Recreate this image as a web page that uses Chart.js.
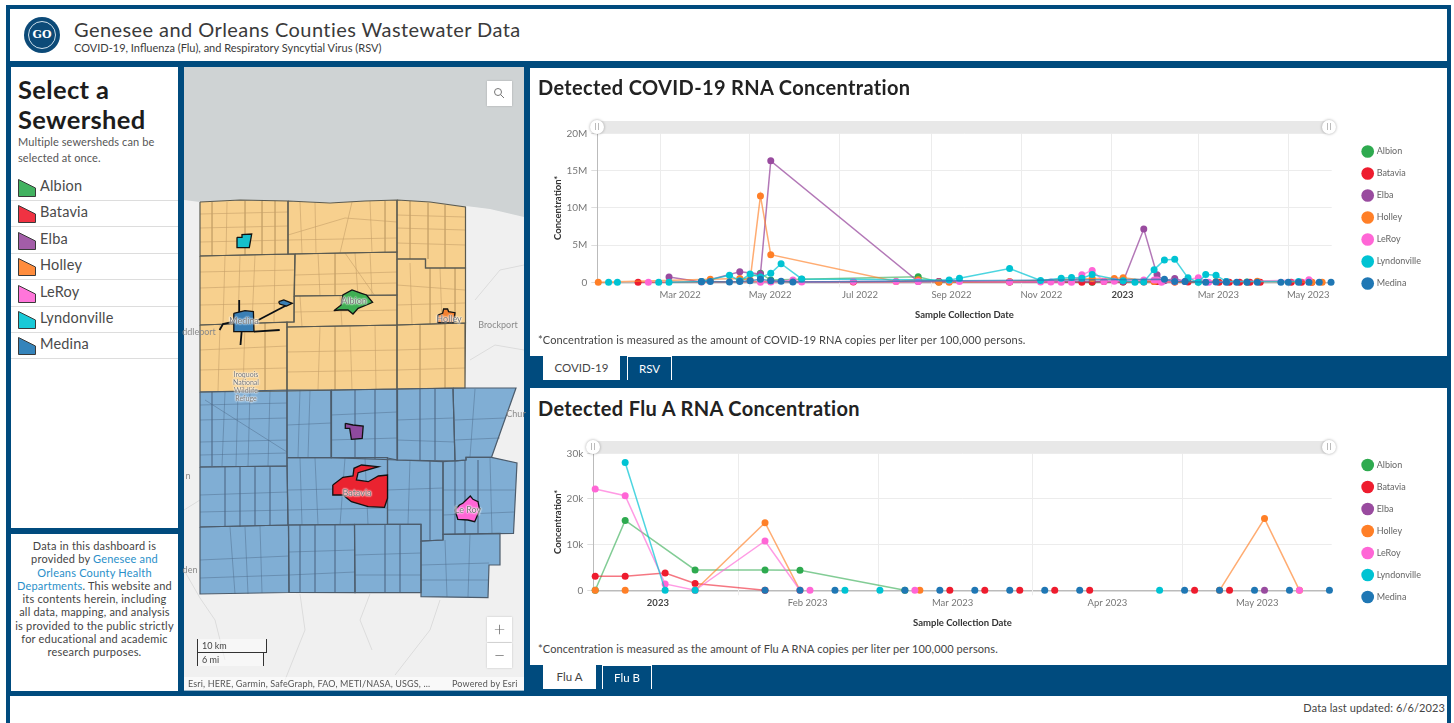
<!DOCTYPE html>
<html>
<head>
<meta charset="utf-8">
<title>Genesee and Orleans Counties Wastewater Data</title>
<script src="https://cdn.jsdelivr.net/npm/chart.js@4"></script>
<style>
  html, body { margin: 0; padding: 0; background: #fff; overflow: hidden; }
  body { width: 1454px; height: 723px; position: relative; font-family: Lato, "Open Sans", sans-serif; color: #323232; }
  .frame { position: absolute; left: 6px; top: 5px; width: 1445px; height: 718px; background: #004b7e; }
  .box { position: absolute; background: #fff; }
  .abs { position: absolute; white-space: nowrap; }
  canvas { position: absolute; }
  .track { position: absolute; height: 12px; background: #e8e8e8; }
  .handle { position: absolute; width: 14px; height: 14px; border-radius: 50%; background: #fff; box-shadow: 0 0 3px rgba(0,0,0,.35); }
  .handle::after { content: ""; position: absolute; left: 5px; top: 3px; width: 2px; height: 7px; border-left: 1px solid #bbb; border-right: 1px solid #bbb; }
  .tab { position: absolute; height: 24px; line-height: 24px; text-align: center; font-size: 11.5px; box-sizing: border-box; }
  .tab.on { background: #fff; color: #444; }
  .tab.off { border: 1px solid #fff; border-bottom: 0; color: #fff; }
  .chart-title { font-size: 20px; font-weight: 700; letter-spacing: .35px; color: #222; left: 538px; }
  .note { left: 538px; font-size: 11px; color: #444; letter-spacing: .12px; }
  .row { position: absolute; left: 11px; width: 167px; height: 26px; border-bottom: 1px solid #ddd; }
  .row svg { position: absolute; left: 7px; top: 5px; }
  .row span { position: absolute; left: 29px; top: 3px; font-size: 14.5px; color: #4a4a4a; letter-spacing: .2px; }
  .map-label { position: absolute; font-size: 9px; color: #8a8a8a; white-space: nowrap; transform: translate(-50%, -50%); }
  .map-name { color: #777; text-shadow: 0 0 2px #fff, 0 0 2px #fff, 0 0 2px #fff; }
  .zoom-btn { position: absolute; left: 487px; width: 25px; height: 25px; background: #fff; color: #6e6e6e; text-align: center; line-height: 23px; font-size: 20px; font-weight: 300; box-shadow: 0 0 2px rgba(0,0,0,.2); }
</style>
</head>
<body>
<div class="frame"></div>

<div class="box" style="left:10px;top:9px;width:1437px;height:52px"></div>
<div class="abs" style="left:24px;top:17px;width:36px;height:36px;border-radius:50%;background:#0c4a78"></div>
<div class="abs" style="left:28px;top:21px;width:26px;height:26px;border-radius:50%;border:1px solid #cfe0ec;color:#fff;font:700 11px/26px 'DejaVu Serif',serif;text-align:center">GO</div>
<div class="abs" style="left:74px;top:17px;font-size:20px;letter-spacing:.43px;color:#3a3a3a">Genesee and Orleans Counties Wastewater Data</div>
<div class="abs" style="left:74px;top:41px;font-size:11px;color:#3a3a3a">COVID-19, Influenza (Flu), and Respiratory Syncytial Virus (RSV)</div>

<div class="box" style="left:11px;top:67px;width:167px;height:461px"></div>
<div class="abs" style="left:18px;top:74px;font-size:25.5px;line-height:30px;font-weight:700;color:#1c1c1c;letter-spacing:.35px">Select a<br>Sewershed</div>
<div class="abs" style="left:18px;top:134px;font-size:11px;line-height:16px;letter-spacing:.1px;color:#555">Multiple sewersheds can be<br>selected at once.</div>
<div id="sewershedList"></div>

<div class="box" style="left:11px;top:534px;width:167px;height:157px"></div>
<div class="abs" style="left:11px;top:539px;width:167px;text-align:center;font-size:11px;line-height:13.3px;letter-spacing:.2px;color:#444">Data in this dashboard is<br>provided by <span style="color:#2a8fc9">Genesee and<br>Orleans County Health<br>Departments</span>. This website and<br>its contents herein, including<br>all data, mapping, and analysis<br>is provided to the public strictly<br>for educational and academic<br>research purposes.</div>

<canvas id="mapChart" width="340" height="623" style="left:184px;top:67px;background:#f0f0f0"></canvas>
<div class="map-label" style="left:199px;top:331px">ddleport</div>
<div class="map-label" style="left:498px;top:324px">Brockport</div>
<div class="map-label" style="left:516px;top:413px">Chur</div>
<div class="map-label" style="left:188px;top:475px">n</div>
<div class="map-label" style="left:190px;top:569px">den</div>
<div class="map-label map-name" style="left:246px;top:386px;font-size:7px;line-height:8px;text-align:center">Iroquois<br>National<br>Wildlife<br>Refuge</div>
<div class="map-label map-name" style="left:354px;top:300px">Albion</div>
<div class="map-label map-name" style="left:244px;top:320px">Medina</div>
<div class="map-label map-name" style="left:449px;top:318px">Holley</div>
<div class="map-label map-name" style="left:357px;top:492px">Batavia</div>
<div class="map-label map-name" style="left:468px;top:509px">Le Roy</div>
<div class="abs" style="left:487px;top:81px;width:25px;height:25px;background:#fff;box-shadow:0 0 2px rgba(0,0,0,.2)">
  <svg width="25" height="25"><circle cx="11" cy="11" r="3.5" fill="none" stroke="#777"/><line x1="13.5" y1="13.5" x2="17" y2="17" stroke="#777"/></svg>
</div>
<div class="zoom-btn" style="top:617px">+</div>
<div class="zoom-btn" style="top:643px">−</div>
<div class="abs" style="left:197px;top:639px;width:68px;height:13px;border-left:1px solid #333;border-right:1px solid #333;border-bottom:1px solid #333;background:rgba(255,255,255,.45);font-size:9px;line-height:13px;text-indent:4px;color:#444">10 km</div>
<div class="abs" style="left:197px;top:653px;width:65px;height:13px;border-left:1px solid #333;border-right:1px solid #333;background:rgba(255,255,255,.45);font-size:9px;line-height:13px;text-indent:4px;color:#444">6 mi</div>
<div class="abs" style="left:184px;top:677px;width:340px;height:14px;background:rgba(255,255,255,.6)"></div>
<div class="abs" style="left:188px;top:678px;font-size:9px;letter-spacing:.15px;color:#555">Esri, HERE, Garmin, SafeGraph, FAO, METI/NASA, USGS, ...</div>
<div class="abs" style="left:452px;top:678px;font-size:9px;letter-spacing:.15px;color:#555">Powered by Esri</div>

<div class="box" style="left:530px;top:68px;width:917px;height:288px"></div>
<div class="abs chart-title" style="top:75px">Detected COVID-19 RNA Concentration</div>
<div class="track" style="left:597px;top:121px;width:732px"></div>
<canvas id="covidChart" width="917" height="235" style="left:530px;top:100px"></canvas>
<div class="handle" style="left:590px;top:120px"></div>
<div class="handle" style="left:1322px;top:120px"></div>
<div class="abs note" style="top:333px">*Concentration is measured as the amount of COVID-19 RNA copies per liter per 100,000 persons.</div>
<div class="tab on" style="left:543px;top:356px;width:77px">COVID-19</div>
<div class="tab off" style="left:627px;top:356px;width:45px">RSV</div>

<div class="box" style="left:530px;top:388px;width:917px;height:277px"></div>
<div class="abs chart-title" style="top:396px">Detected Flu A RNA Concentration</div>
<div class="track" style="left:593px;top:441px;width:736px"></div>
<canvas id="fluChart" width="917" height="222" style="left:530px;top:420px"></canvas>
<div class="handle" style="left:586px;top:440px"></div>
<div class="handle" style="left:1322px;top:440px"></div>
<div class="abs note" style="top:642px">*Concentration is measured as the amount of Flu A RNA copies per liter per 100,000 persons.</div>
<div class="tab on" style="left:543px;top:665px;width:53px">Flu A</div>
<div class="tab off" style="left:602px;top:665px;width:50px">Flu B</div>

<div class="box" style="left:10px;top:696px;width:1437px;height:27px"></div>
<div class="abs" style="right:9px;top:701px;font-size:11px;letter-spacing:.1px;color:#444">Data last updated: 6/6/2023</div>

<script>
const seriesNames = ['Albion', 'Batavia', 'Elba', 'Holley', 'LeRoy', 'Lyndonville', 'Medina'];
const seriesColors = ['#2eaa4f', '#ee1c2e', '#994b9f', '#ff7f27', '#ff66d6', '#00c3d3', '#1f77b4'];
const seriesLines = ['rgba(46,170,79,.6)', 'rgba(238,28,46,.6)', 'rgba(153,75,159,.75)', 'rgba(255,127,39,.65)', 'rgba(255,102,214,.65)', 'rgba(0,195,211,.7)', 'rgba(31,119,180,.7)'];

// COVID-19 concentration in millions, [sample date, value]
const covidAlbion = [['2022-04-24', 0.2], ['2022-05-08', 1.2], ['2022-05-15', 0.3], ['2022-06-05', 0.4], ['2022-08-23', 0.75], ['2022-09-06', 0.05], ['2022-10-24', 0.05], ['2022-12-19', 0], ['2023-01-09', 0.05], ['2023-02-01', 0.1], ['2023-03-01', 0.05], ['2023-04-03', 0.05]];
const covidBatavia = [['2022-02-14', 0], ['2022-05-15', 0.1], ['2022-07-10', 0.05], ['2022-09-06', 0.1], ['2022-10-24', 0.05], ['2022-12-12', 0], ['2022-12-19', 0.05], ['2022-12-27', 0.1], ['2023-01-09', 0.05], ['2023-01-23', 0.05], ['2023-01-30', 0.1], ['2023-02-01', 0.1], ['2023-02-13', 0.05], ['2023-02-22', 0.05], ['2023-03-15', 0], ['2023-03-22', 0], ['2023-03-29', 0], ['2023-04-05', 0], ['2023-04-12', 0], ['2023-05-03', 0], ['2023-05-10', 0], ['2023-05-17', 0]];
const covidElba = [['2022-03-07', 0.7], ['2022-03-29', 0.05], ['2022-04-24', 1.4], ['2022-05-08', 1.1], ['2022-05-15', 16.3], ['2022-08-23', 0.1], ['2022-09-06', 0.1], ['2023-01-09', 0.1], ['2023-01-23', 7.15], ['2023-02-01', 1.0], ['2023-02-06', 0.2], ['2023-02-13', 0.5], ['2023-02-20', 0.1], ['2023-03-20', 0.1]];
const covidHolley = [['2022-01-18', 0], ['2022-04-04', 0.4], ['2022-04-24', 0.5], ['2022-05-01', 0.3], ['2022-05-08', 11.6], ['2022-05-15', 3.7], ['2022-08-08', 0.1], ['2022-08-23', 0.35], ['2022-09-06', 0], ['2022-09-13', 0], ['2022-10-24', 0.1], ['2022-12-19', 0.5], ['2023-01-03', 0.5], ['2023-01-09', 0.6], ['2023-01-30', 0.1], ['2023-02-13', 0.05], ['2023-03-13', 0.1], ['2023-04-10', 0.15], ['2023-05-17', 0], ['2023-05-24', 0]];
const covidLeRoy = [['2022-02-21', 0], ['2022-05-08', 0], ['2022-05-15', 0.05], ['2022-05-30', 0.3], ['2022-06-05', 0.05], ['2022-07-10', 0.1], ['2022-08-08', 0.1], ['2022-08-23', 0.1], ['2022-09-13', 0.25], ['2022-09-20', 0.1], ['2022-10-24', 0.05], ['2022-11-14', 0.05], ['2022-11-21', 0.05], ['2022-11-28', 0], ['2022-12-05', 0], ['2022-12-12', 1.0], ['2022-12-19', 1.6], ['2022-12-27', 0.1], ['2023-01-03', 0.15], ['2023-01-23', 0.3], ['2023-01-30', 0.3], ['2023-02-01', 0.3], ['2023-02-04', 0], ['2023-02-13', 0.1], ['2023-03-01', 0.6], ['2023-03-08', 0], ['2023-05-15', 0.35]];
const covidLyndonville = [['2022-01-25', 0], ['2022-01-31', 0], ['2022-02-28', 0], ['2022-03-07', 0], ['2022-03-29', 0.1], ['2022-04-17', 0.95], ['2022-04-24', 0.2], ['2022-05-01', 1.1], ['2022-05-08', 0.7], ['2022-05-15', 1.2], ['2022-05-22', 2.5], ['2022-06-05', 0.45], ['2022-09-13', 0.3], ['2022-09-20', 0.55], ['2022-10-24', 1.85], ['2022-11-14', 0.25], ['2022-11-28', 0.55], ['2022-12-05', 0.65], ['2022-12-12', 0.55], ['2022-12-19', 1.05], ['2023-01-09', 0.2], ['2023-01-17', 0], ['2023-01-23', 0.05], ['2023-01-30', 1.7], ['2023-02-06', 3.0], ['2023-02-13', 3.1], ['2023-02-22', 0.6], ['2023-03-01', 0], ['2023-03-06', 1.05], ['2023-03-13', 0.95], ['2023-03-20', 0.1], ['2023-05-08', 0.1]];
const covidMedina = [['2022-03-29', 0.1], ['2022-04-04', 0.1], ['2022-04-17', 0.05], ['2022-04-24', 0.1], ['2022-05-01', 0.2], ['2022-05-08', 0.4], ['2022-05-15', 0.2], ['2022-05-22', 0.15], ['2022-05-30', 0.05], ['2023-02-06', 0.4], ['2023-02-13', 0.1], ['2023-02-20', 0.1], ['2023-03-06', 0], ['2023-03-13', 0.05], ['2023-03-20', 0], ['2023-03-27', 0], ['2023-04-03', 0], ['2023-04-10', 0], ['2023-04-26', 0], ['2023-05-01', 0], ['2023-05-08', 0], ['2023-05-15', 0], ['2023-05-22', 0], ['2023-05-30', 0]];

const covidGridDates = ['2022-03-01', '2022-05-01', '2022-07-01', '2022-09-01', '2022-11-01', '2023-01-01', '2023-03-01', '2023-05-01'];
const covidTickDates = ['2022-03-15', '2022-05-15', '2022-07-15', '2022-09-15', '2022-11-15', '2023-01-09', '2023-03-15', '2023-05-15'];
const covidTickLabels = ['Mar 2022', 'May 2022', 'Jul 2022', 'Sep 2022', 'Nov 2022', '2023', 'Mar 2023', 'May 2023'];

// Flu A concentration in thousands, [sample date, value]
const fluAlbion = [['2023-01-03', 0], ['2023-01-09', 15.3], ['2023-01-23', 4.45], ['2023-02-06', 4.45], ['2023-02-13', 4.4], ['2023-03-06', 0]];
const fluBatavia = [['2023-01-03', 3.07], ['2023-01-09', 3.07], ['2023-01-17', 3.8], ['2023-01-23', 1.5], ['2023-02-06', 0], ['2023-03-15', 0], ['2023-03-22', 0], ['2023-03-29', 0], ['2023-04-05', 0], ['2023-04-12', 0], ['2023-05-03', 0], ['2023-05-10', 0]];
const fluElba = [['2023-05-17', 0]];
const fluHolley = [['2023-01-03', 0], ['2023-01-09', 0], ['2023-01-23', 0], ['2023-02-06', 14.8], ['2023-02-13', 0], ['2023-03-09', 0], ['2023-05-08', 0], ['2023-05-17', 15.7], ['2023-05-24', 0]];
const fluLeRoy = [['2023-01-03', 22.2], ['2023-01-09', 20.7], ['2023-01-17', 1.4], ['2023-01-23', 0], ['2023-02-06', 10.8], ['2023-02-13', 0], ['2023-02-15', 0], ['2023-03-08', 0], ['2023-05-24', 0]];
const fluLyndonville = [['2023-01-09', 28.0], ['2023-01-17', 0], ['2023-01-23', 0], ['2023-02-22', 0], ['2023-03-01', 0], ['2023-04-26', 0]];
const fluMedina = [['2023-02-06', 0], ['2023-02-13', 0], ['2023-02-20', 0], ['2023-03-06', 0], ['2023-03-13', 0], ['2023-03-20', 0], ['2023-03-27', 0], ['2023-04-03', 0], ['2023-04-10', 0], ['2023-05-01', 0], ['2023-05-08', 0], ['2023-05-15', 0], ['2023-05-22', 0], ['2023-05-30', 0]];

const fluGridDates = ['2023-02-01', '2023-03-01', '2023-04-01', '2023-05-01'];
const fluTickDates = ['2023-01-16', '2023-02-15', '2023-03-16', '2023-04-16', '2023-05-16'];
const fluTickLabels = ['2023', 'Feb 2023', 'Mar 2023', 'Apr 2023', 'May 2023'];

// Map outlines in page coordinates of the map view
const lakeShape = [[184, 67], [524, 67], [524, 217], [490, 209], [466, 206], [465, 207], [430, 202], [397, 200], [350, 203], [288, 201], [240, 200], [200, 202], [184, 200]];
const orleansTowns = [
  [[200, 202], [240, 200], [288, 201], [288, 254], [200, 256]],
  [[288, 201], [330, 203], [365, 201], [397, 200], [397, 252], [288, 254]],
  [[397, 200], [430, 202], [465.5, 207], [465.5, 268], [425.5, 268], [425.5, 259], [397, 259]],
  [[200, 256], [295, 254], [294, 322], [200, 325]],
  [[295, 254], [397, 252], [397, 295], [294, 296]],
  [[294, 296], [397, 295], [397, 325], [287, 327], [287, 322], [294, 322]],
  [[397, 259], [425.5, 259], [425.5, 268], [465.5, 268], [465.5, 323], [397, 325]],
  [[200, 325], [287, 322], [287, 391], [200, 392]],
  [[287, 327], [397, 325], [397, 389], [287, 391]],
  [[397, 325], [465.5, 323], [465, 388], [397, 389]]
];
const geneseeTowns = [
  [[200, 392], [287, 390], [287, 466], [200, 467]],
  [[287, 390], [331, 390], [331.5, 457.7], [287, 457.7]],
  [[331, 390], [397, 389], [397.5, 460], [331.5, 457.7]],
  [[397, 389], [453, 388], [455, 461], [397.5, 460]],
  [[453, 388], [516, 388], [491.5, 457.3], [466, 457.3], [466, 460], [455, 461]],
  [[200, 467], [287, 466], [288, 525], [200, 527]],
  [[287, 457.7], [387.5, 457.7], [387.5, 524.3], [288, 525]],
  [[387.5, 458], [397.5, 460], [443, 461.7], [443, 540], [421, 541], [421, 524.3], [387.5, 524.3]],
  [[443, 461.7], [466, 460], [466, 457.3], [491.5, 457.3], [517, 463], [513.5, 533.3], [443, 534.3]],
  [[200, 527], [288.5, 525], [289, 592.5], [200, 594]],
  [[288.5, 525], [354.5, 524.3], [355, 592.7], [289, 592.5]],
  [[354.5, 524.3], [421, 524.3], [421, 592.7], [355, 592.7]],
  [[421, 541], [443, 540], [443, 534.3], [500, 533.3], [500, 565], [489, 565], [488, 597.7], [421, 596.7]]
];
const orleansRoads = [
  [[227, 202], [226, 256]], [[245, 201], [245, 255]], [[262, 201], [262, 255]], [[200, 228], [288, 226]],
  [[288, 235], [345, 218], [397, 222]], [[315, 202], [316, 253]], [[352, 202], [340, 253]], [[370, 201], [372, 252]],
  [[410, 201], [410, 259]], [[428, 203], [428, 259]], [[445, 205], [445, 268]], [[397, 228], [465, 230]],
  [[397, 243], [465, 245]], [[225, 256], [223, 324]], [[255, 255], [252, 323]], [[200, 288], [294, 285]],
  [[200, 305], [294, 303]], [[318, 253], [320, 296]], [[345, 253], [375, 296]], [[370, 252], [372, 296]],
  [[295, 275], [397, 272]], [[410, 263], [412, 324]], [[440, 268], [442, 323]], [[397, 285], [465, 290]],
  [[397, 305], [465, 303]], [[220, 325], [218, 391]], [[245, 323], [243, 391]], [[265, 323], [265, 391]],
  [[200, 350], [287, 346]], [[200, 370], [287, 368]], [[320, 327], [318, 390]], [[350, 326], [352, 390]],
  [[375, 326], [376, 390]], [[287, 352], [397, 350]], [[287, 372], [397, 370]], [[420, 325], [420, 389]],
  [[445, 324], [445, 388]], [[397, 350], [465, 348]], [[397, 370], [465, 368]],
  [[212, 202], [212, 256]], [[275, 201], [275, 254]], [[200, 214], [288, 212]], [[200, 242], [288, 240]],
  [[300, 202], [302, 253]], [[385, 201], [385, 252]], [[288, 240], [397, 238]], [[397, 215], [465, 217]],
  [[240, 256], [238, 323]], [[275, 255], [274, 322]], [[200, 272], [295, 270]], [[335, 253], [335, 296]],
  [[355, 253], [358, 296]], [[295, 285], [397, 283]], [[430, 268], [430, 324]], [[455, 268], [455, 323]],
  [[300, 296], [302, 327]], [[340, 296], [342, 326]], [[294, 312], [397, 310]], [[335, 326], [335, 390]]
];
const geneseeRoads = [
  [[225, 392], [222, 466]], [[250, 391], [248, 466]], [[270, 391], [268, 466]], [[200, 420], [287, 418]],
  [[200, 442], [287, 440]], [[205, 400], [287, 452]], [[310, 390], [308, 458]], [[287, 425], [331, 423]],
  [[355, 390], [355, 458]], [[331, 415], [397, 412]], [[331, 440], [397, 438]], [[420, 389], [420, 460]],
  [[397, 420], [453, 418]], [[397, 440], [455, 442]], [[475, 389], [470, 457]], [[455, 420], [505, 418]],
  [[225, 467], [225, 527]], [[255, 466], [255, 526]], [[200, 495], [288, 492]], [[200, 512], [288, 510]],
  [[315, 458], [318, 525]], [[345, 458], [340, 525]], [[288, 490], [387, 488]], [[288, 510], [387, 508]],
  [[410, 460], [408, 524]], [[430, 461], [430, 540]], [[387, 490], [443, 488]], [[387, 510], [443, 510]],
  [[465, 460], [465, 534]], [[490, 458], [492, 534]], [[443, 490], [515, 490]], [[443, 515], [514, 512]],
  [[230, 527], [235, 594]], [[260, 526], [262, 593]], [[200, 560], [289, 556]], [[315, 525], [315, 592]],
  [[289, 552], [355, 550]], [[289, 575], [355, 572]], [[385, 524], [385, 592]], [[355, 555], [421, 553]],
  [[355, 575], [421, 575]], [[445, 540], [447, 597]], [[470, 534], [468, 597]], [[421, 565], [489, 563]],
  [[212, 392], [212, 466]], [[238, 392], [236, 466]], [[200, 405], [287, 403]], [[200, 455], [287, 453]],
  [[300, 390], [298, 458]], [[375, 389], [375, 459]], [[435, 389], [435, 460]], [[455, 440], [500, 438]],
  [[240, 467], [240, 527]], [[270, 466], [270, 526]], [[300, 458], [302, 525]], [[365, 458], [368, 525]],
  [[455, 462], [455, 534]], [[478, 460], [478, 534]], [[245, 527], [248, 594]], [[200, 578], [289, 575]],
  [[300, 525], [300, 592]], [[335, 525], [335, 592]], [[400, 524], [400, 592]], [[421, 580], [489, 580]]
];
const landLines = [
  [[184, 570], [200, 598], [215, 620], [225, 660]], [[300, 594], [305, 630], [285, 680]],
  [[370, 594], [360, 620], [372, 650]], [[440, 600], [430, 630], [395, 675]], [[184, 510], [200, 500]],
  [[475, 300], [500, 270], [524, 265]], [[470, 360], [495, 345], [524, 350]]
];
const sewershedShapes = {
  Albion: [[333.8, 310.7], [341.2, 305], [342.9, 295], [352, 290], [361.5, 293.3], [366.5, 295], [372.6, 302.3], [366.5, 305], [358.1, 308.3], [353, 314], [348, 310], [339.5, 310]],
  Batavia: [[332.8, 485], [342.9, 477.3], [353, 476], [354, 468.3], [361.5, 465], [378.4, 466.7], [358.1, 472.7], [356.4, 480], [368.2, 481.7], [378.4, 476], [387.5, 475], [387.5, 498.3], [384.5, 507.3], [368.2, 506.7], [351.4, 501.7], [342.9, 495], [332.8, 495]],
  Elba: [[345.3, 423.3], [353, 425], [363.2, 426], [362.2, 438.3], [351.4, 439.3], [349.7, 428.3], [345.3, 428.3]],
  Holley: [[437.5, 322.7], [438.2, 315], [442.6, 313.3], [443.6, 309], [447.6, 309], [448.6, 311.7], [455, 312.7], [453.7, 322.7]],
  LeRoy: [[455, 510], [459.5, 505], [462.8, 503.3], [470.3, 496], [473, 499.3], [478, 501.7], [479.7, 510], [474.7, 521.7], [467.9, 520], [457.8, 519.3]],
  Lyndonville: [[237, 237.3], [242, 237.3], [242, 234.7], [251.7, 234], [249.3, 247.7], [237.5, 247.7]],
  Medina: [[233.8, 313.3], [245, 310.7], [253.4, 311.7], [254, 331.7], [233.8, 331.7]],
  MedinaEast: [[278.7, 301.7], [283.8, 300], [292.2, 303.3], [286.5, 306], [279.7, 304]]
};
const medinaArms = [
  [[239.2, 300], [239.2, 312]], [[219.6, 330], [223, 324], [233.8, 321.7]],
  [[254, 331.7], [279.7, 330]], [[241.6, 331.7], [240.5, 345]], [[258.4, 320], [287, 305]]
];

// COVID and flu points sit a bit after midnight of their date on the time axis
const sampleOffset = 0.45;
const axisFont = 'Lato, "Open Sans", sans-serif';

function day(text) {
    return Date.parse(text + 'T00:00:00Z') / 86400000;
}

const monthGrid = {
    id: 'monthGrid',
    beforeDatasetsDraw(chart, args, opts) {
        if (!opts.dates) return;
        const {ctx, chartArea, scales} = chart;
        ctx.save();
        ctx.strokeStyle = '#ececec';
        ctx.lineWidth = 1;
        opts.dates.forEach(date => {
            const x = Math.round(scales.x.getPixelForValue(day(date))) + 0.5;
            ctx.beginPath();
            ctx.moveTo(x, chartArea.top);
            ctx.lineTo(x, chartArea.bottom + 5);
            ctx.stroke();
        });
        ctx.restore();
    }
};

function buildDatasets(seriesList) {
    return seriesList.map((points, i) => ({
        label: seriesNames[i],
        data: points.map(([date, value]) => ({x: day(date) + sampleOffset, y: value})),
        borderColor: seriesLines[i],
        backgroundColor: seriesColors[i],
        borderWidth: 1.5,
        pointRadius: 3.5,
        pointBackgroundColor: seriesColors[i],
        pointBorderColor: seriesColors[i],
        pointBorderWidth: 0,
        tension: 0,
        fill: false,
        clip: false,
        order: seriesList.length - i,
        // runs along the zero line stay hidden so the grey axis shows
        segment: {
            borderColor: ctx => (ctx.p0.parsed.y === 0 && ctx.p1.parsed.y === 0 ? 'rgba(0,0,0,0)' : undefined)
        }
    }));
}

function buildChart(canvasId, seriesList, cfg) {
    return new Chart(document.getElementById(canvasId), {
        type: 'line',
        data: {datasets: buildDatasets(seriesList)},
        plugins: [monthGrid],
        options: {
            responsive: false,
            animation: false,
            layout: {padding: {left: 22, right: 16, top: 0, bottom: 0}},
            plugins: {
                monthGrid: {dates: cfg.gridDates},
                tooltip: {enabled: false},
                legend: {
                    position: 'right',
                    labels: {
                        usePointStyle: true,
                        boxHeight: 9,
                        boxWidth: 9,
                        padding: 13,
                        color: '#666',
                        font: {size: 9, family: axisFont},
                        sort: (a, b) => a.datasetIndex - b.datasetIndex
                    }
                }
            },
            scales: {
                x: {
                    type: 'linear',
                    min: cfg.xMin,
                    max: cfg.xMax,
                    grid: {display: false, drawTicks: false},
                    border: {display: true, color: '#bbb', width: 1.5},
                    afterBuildTicks(axis) {
                        axis.ticks = cfg.tickDates.map(date => ({value: day(date)}));
                    },
                    afterFit(axis) {
                        axis.height = cfg.xHeight;
                    },
                    ticks: {
                        autoSkip: false,
                        maxRotation: 0,
                        padding: 7,
                        color: ctx => (ctx.tick && ctx.tick.label === '2023' ? '#444' : '#777'),
                        font: ctx => ({size: 9.5, family: axisFont, weight: ctx.tick && ctx.tick.label === '2023' ? 700 : 400}),
                        callback: (value, index) => cfg.tickLabels[index]
                    },
                    title: {
                        display: true,
                        text: 'Sample Collection Date',
                        color: '#333',
                        padding: {top: 7, bottom: cfg.titleLift},
                        font: {size: 9.5, weight: 700, family: axisFont}
                    }
                },
                y: {
                    min: 0,
                    max: cfg.yMax,
                    grid: {color: '#ececec', tickLength: 6, tickColor: '#ddd'},
                    border: {color: '#bbb'},
                    afterFit(axis) {
                        axis.width = cfg.yWidth;
                    },
                    ticks: {
                        stepSize: cfg.yStep,
                        padding: 4,
                        color: '#777',
                        font: {size: 10, family: axisFont},
                        callback: value => (value === 0 ? '0' : value + cfg.ySuffix)
                    },
                    title: {
                        display: true,
                        text: 'Concentration*',
                        color: '#333',
                        padding: 0,
                        font: {size: 9.5, weight: 700, family: axisFont}
                    }
                },
                // empty axes that keep the slider row and the gap before the legend
                topGap: {
                    axis: 'x',
                    position: 'top',
                    display: true,
                    grid: {display: false, drawTicks: false},
                    border: {display: false},
                    ticks: {display: false},
                    afterFit(axis) {
                        axis.height = 33.3;
                    }
                },
                legendGap: {
                    axis: 'y',
                    position: 'right',
                    display: true,
                    grid: {display: false, drawTicks: false},
                    border: {display: false},
                    ticks: {display: false},
                    afterFit(axis) {
                        axis.width = 18.5;
                    }
                }
            }
        }
    });
}

buildChart('covidChart', [covidAlbion, covidBatavia, covidElba, covidHolley, covidLeRoy, covidLyndonville, covidMedina], {
    xMin: day('2022-01-17') + 0.8,
    xMax: day('2023-05-30') + 0.9,
    xHeight: 52.7,
    titleLift: 14.3,
    yMax: 20,
    yStep: 5,
    ySuffix: 'M',
    yWidth: 45.3,
    gridDates: covidGridDates,
    tickDates: covidTickDates,
    tickLabels: covidTickLabels
});

buildChart('fluChart', [fluAlbion, fluBatavia, fluElba, fluHolley, fluLeRoy, fluLyndonville, fluMedina], {
    xMin: day('2023-01-03') + 0.07,
    xMax: day('2023-05-30') + 0.9,
    xHeight: 51.7,
    titleLift: 13,
    yMax: 30,
    yStep: 10,
    ySuffix: 'k',
    yWidth: 41.3,
    gridDates: fluGridDates,
    tickDates: fluTickDates,
    tickLabels: fluTickLabels
});

// Map drawn as closed line datasets on pixel-like linear scales
function shape(points, fillColor, lineColor, width) {
    const ring = points.concat([points[0]]);
    return {
        data: ring.map(([x, y]) => ({x, y})),
        backgroundColor: fillColor,
        borderColor: lineColor,
        borderWidth: width,
        pointRadius: 0,
        fill: 'shape',
        tension: 0
    };
}

function path(points, lineColor, width) {
    return {
        data: points.map(([x, y]) => ({x, y})),
        borderColor: lineColor,
        borderWidth: width,
        pointRadius: 0,
        fill: false,
        tension: 0
    };
}

const mapSets = [
    ...landLines.map(l => path(l, '#dcdcdc', 1)),
    shape(lakeShape, '#cfd3d4', '#cfd3d4', 0),
    ...orleansTowns.map(t => shape(t, '#f7d08e', '#f7d08e', 0)),
    ...geneseeTowns.map(t => shape(t, '#80aed4', '#80aed4', 0)),
    ...orleansRoads.map(l => path(l, 'rgba(198,160,105,.6)', 1)),
    ...geneseeRoads.map(l => path(l, 'rgba(75,105,135,.45)', 1)),
    ...orleansTowns.map(t => shape(t, 'rgba(0,0,0,0)', '#5a5a50', 1.2)),
    ...geneseeTowns.map(t => shape(t, 'rgba(0,0,0,0)', '#4c5c6c', 1.2)),
    ...medinaArms.map(l => path(l, '#0a0f14', 1.8)),
    shape(sewershedShapes.Albion, '#3fae53', '#111', 1.3),
    shape(sewershedShapes.Batavia, '#ea2330', '#111', 1.3),
    shape(sewershedShapes.Elba, '#8f4a9e', '#111', 1.3),
    shape(sewershedShapes.Holley, '#f58231', '#111', 1.3),
    shape(sewershedShapes.LeRoy, '#ff66d6', '#111', 1.3),
    shape(sewershedShapes.Lyndonville, '#16bfcc', '#111', 1.3),
    shape(sewershedShapes.Medina, '#3a7fb5', '#111', 1.3),
    shape(sewershedShapes.MedinaEast, '#3a7fb5', '#111', 1.3)
];
mapSets.forEach((set, i) => {
    set.order = mapSets.length - i;
});

new Chart(document.getElementById('mapChart'), {
    type: 'line',
    data: {datasets: mapSets},
    options: {
        responsive: false,
        animation: false,
        plugins: {legend: {display: false}, tooltip: {enabled: false}},
        scales: {
            x: {type: 'linear', display: false, min: 184, max: 524},
            y: {type: 'linear', display: false, min: 67, max: 690, reverse: true}
        }
    }
});

// sewershed picker on the left
const listBox = document.getElementById('sewershedList');
seriesNames.forEach((name, i) => {
    const row = document.createElement('div');
    row.className = 'row';
    row.style.top = (174 + i * 26.4) + 'px';
    row.innerHTML = `<svg width="18" height="18"><polygon points="0.5,0.5 17.5,9 17.5,17.5 0.5,17.5" fill="${seriesColors[i]}" fill-opacity=".9" stroke="#3a3a3a"/></svg><span>${name}</span>`;
    listBox.appendChild(row);
});
</script>
</body>
</html>
